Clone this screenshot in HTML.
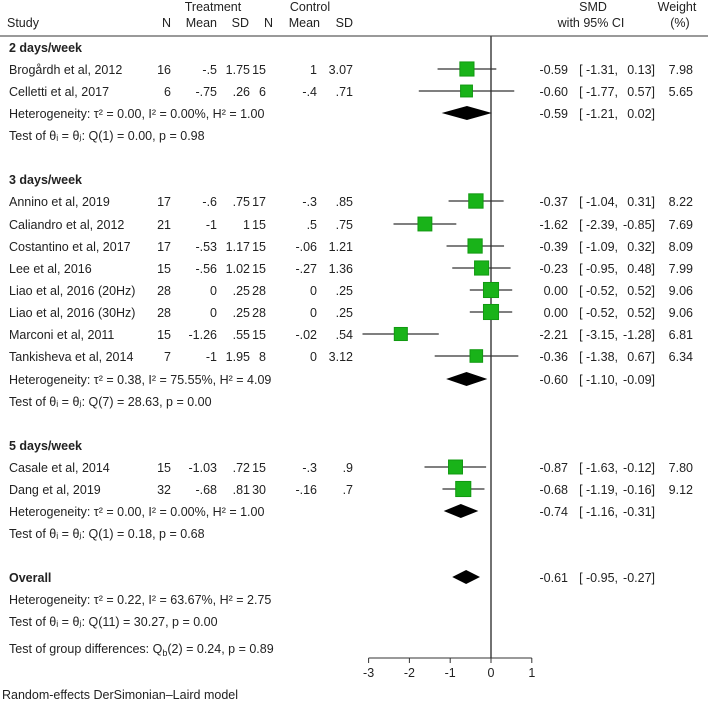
<!DOCTYPE html>
<html><head><meta charset="utf-8"><style>
body{margin:0;background:#fff}
svg{display:block;font-family:"Liberation Sans",Arial,sans-serif;font-size:12.5px;fill:#222}
</style></head><body>
<svg id="c" width="708" height="701"></svg>
<script>
const studies=["Brogårdh et al, 2012","Celletti et al, 2017","Annino et al, 2019","Caliandro et al, 2012","Costantino et al, 2017","Lee et al, 2016","Liao et al, 2016 (20Hz)","Liao et al, 2016 (30Hz)","Marconi et al, 2011","Tankisheva et al, 2014","Casale et al, 2014","Dang et al, 2019"];
const tN=["16","6","17","21","17","15","28","28","15","7","15","32"];
const tMean=["-.5","-.75","-.6","-1","-.53","-.56","0","0","-1.26","-1","-1.03","-.68"];
const tSD=["1.75",".26",".75","1","1.17","1.02",".25",".25",".55","1.95",".72",".81"];
const cN=["15","6","17","15","15","15","28","28","15","8","15","30"];
const cMean=["1","-.4","-.3",".5","-.06","-.27","0","0","-.02","0","-.3","-.16"];
const cSD=["3.07",".71",".85",".75","1.21","1.36",".25",".25",".54","3.12",".9",".7"];
const smd=[-0.59,-0.60,-0.37,-1.62,-0.39,-0.23,0.00,0.00,-2.21,-0.36,-0.87,-0.68];
const lo=[-1.31,-1.77,-1.04,-2.39,-1.09,-0.95,-0.52,-0.52,-3.15,-1.38,-1.63,-1.19];
const hi=[0.13,0.57,0.31,-0.85,0.32,0.48,0.52,0.52,-1.28,0.67,-0.12,-0.16];
const weight=[7.98,5.65,8.22,7.69,8.09,7.99,9.06,9.06,6.81,6.34,7.80,9.12];
const studyRows=[69,91,201,224,246,268,290,312,334,356,467,489];
const pooledLabels=["2 days/week","3 days/week","5 days/week","Overall"];
const pooled=[-0.59,-0.60,-0.74,-0.61];
const pooledLo=[-1.21,-1.10,-1.16,-0.95];
const pooledHi=[0.02,-0.09,-0.31,-0.27];
const groupRows=[47,179,445,577];
const pooledRows=[113,379,511,577];
const ticks=[-3,-2,-1,0,1];
const X=v=>491+40.8*v;
const svg=document.getElementById('c');const NS="http://www.w3.org/2000/svg";
function el(tag,a,name,txt){const e=document.createElementNS(NS,tag);for(const k in a)e.setAttribute(k,a[k]);


if(txt!==undefined)e.textContent=txt;svg.appendChild(e);return e;}
function t(x,y,s,name,anchor,bold){return el('text',{x:x,y:y+5,'text-anchor':anchor||'start','font-weight':bold?'bold':'normal'},name,s);}
const f=v=>(v<0?"-":"")+Math.abs(v).toFixed(2);
function ci(y,v,l,h,w){t(568,y,f(v),'ci-estimate','end');t(618,y,"[ "+f(l)+",",'ci-lower','end');t(655,y,f(h)+"]",'ci-upper','end');if(w!==undefined)t(693,y,w.toFixed(2),'weight-value','end');}
// headers
t(213,6,"Treatment",'treatment-header','middle');
t(310,6,"Control",'control-header','middle');t(593,6,"SMD",'smd-header','middle');t(677,6,"Weight",'weight-header','middle');
t(7,22,"Study",'study-header');t(171,22,"N",'n-header','end');t(217,22,"Mean",'mean-header','end');t(249,22,"SD",'sd-header','end');
t(273,22,"N",'n-header','end');t(320,22,"Mean",'mean-header','end');t(353,22,"SD",'sd-header','end');
t(591,22,"with 95% CI",'ci-header','middle');t(680,22,"(%)",'pct-header','middle');
el('line',{x1:0,y1:36,x2:708,y2:36,stroke:'#333','stroke-width':1},'header-rule');
el('line',{x1:X(0),y1:36,x2:X(0),y2:658,stroke:'#444','stroke-width':1.5},'null-line');
// studies
studies.forEach((s,i)=>{const y=studyRows[i];
t(9,y,s,'study-name');t(171,y,tN[i],'treat-n','end');t(217,y,tMean[i],'treat-mean','end');t(250,y,tSD[i],'treat-sd','end');
t(266,y,cN[i],'ctrl-n','end');t(317,y,cMean[i],'ctrl-mean','end');t(353,y,cSD[i],'ctrl-sd','end');
el('line',{x1:X(lo[i]),y1:y,x2:X(hi[i]),y2:y,stroke:'#333','stroke-width':1.2},'ci-line');
const sz=Math.sqrt(weight[i])*5;
el('rect',{x:X(smd[i])-sz/2,y:y-sz/2,width:sz,height:sz,fill:'#19b319',stroke:'#119911'},'study-marker');
ci(y,smd[i],lo[i],hi[i],weight[i]);});
// groups
const hets=["Heterogeneity: τ² = 0.00, I² = 0.00%, H² = 1.00","Heterogeneity: τ² = 0.38, I² = 75.55%, H² = 4.09","Heterogeneity: τ² = 0.00, I² = 0.00%, H² = 1.00","Heterogeneity: τ² = 0.22, I² = 63.67%, H² = 2.75"];
const tests=["Q(1) = 0.00, p = 0.98","Q(7) = 28.63, p = 0.00","Q(1) = 0.18, p = 0.68","Q(11) = 30.27, p = 0.00"];
pooledLabels.forEach((g,i)=>{t(9,groupRows[i],g,'group-label','start',true);
const y=pooledRows[i];const hy=i==3?599:y;const ty=i==3?621:y+22;
t(9,hy,hets[i],'heterogeneity-text');
t(9,ty,"Test of θᵢ = θⱼ: "+tests[i],'homogeneity-test');
el('polygon',{points:`${X(pooledLo[i])},${y} ${X(pooled[i])},${y-7} ${X(pooledHi[i])},${y} ${X(pooled[i])},${y+7}`,fill:'#000'},'pooled-diamond');
ci(y,pooled[i],pooledLo[i],pooledHi[i]);});
t(9,648,"",'group-diff-test').innerHTML="Test of group differences: Q<tspan font-size='9' dy='3'>b</tspan><tspan dy='-3'>(2) = 0.24, p = 0.89</tspan>";
// axis
el('line',{x1:X(-3),y1:658,x2:X(1),y2:658,stroke:'#333'},'x-axis');
ticks.forEach(v=>{el('line',{x1:X(v),y1:658,x2:X(v),y2:663,stroke:'#333'},'x-tick');t(X(v),672,String(v),'x-tick-label','middle');});
t(2,694,"Random-effects DerSimonian–Laird model",'model-note');
</script></body></html>
